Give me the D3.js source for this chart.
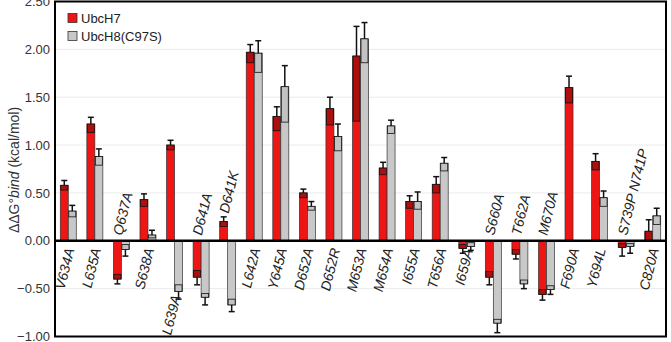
<!DOCTYPE html>
<html>
<head>
<meta charset="utf-8">
<script src="https://cdn.jsdelivr.net/npm/d3@7"></script>
<style>
  body { margin: 0; background: #fff; }
  svg { display: block; font-family: "Liberation Sans", Arial, sans-serif; }
</style>
</head>
<body>
<script>
// mutants along the x axis
var categories = ["V634A", "L635A", "Q637A", "S638A", "L639A", "D641A", "D641K", "L642A",
  "Y645A", "D652A", "D652R", "M653A", "M654A", "I655A", "T656A", "I659A", "S660A",
  "T662A", "M670A", "F690A", "Y694L", "S739P N741P", "C820A"];
// where the mutant name sits relative to the zero line
var labelSide = ["below", "below", "above", "below", "below", "above", "above", "below",
  "below", "below", "below", "below", "below", "below", "below", "below", "above",
  "above", "above", "below", "below", "above", "below"];

var seriesNames = ["UbcH7", "UbcH8(C97S)"];

// UbcH7 ddG (kcal/mol) with asymmetric errors
var h7Values = [0.58, 1.22, -0.40, 0.43, 1.00, -0.38, 0.20, 1.97, 1.30, 0.50, 1.38, 1.93,
  0.76, 0.41, 0.59, -0.08, -0.38, -0.14, -0.56, 1.60, 0.83, -0.07, 0.10];
var h7ErrUp = [0.05, 0.07, 0.05, 0.06, 0.05, 0.07, 0.05, 0.08, 0.10, 0.04, 0.12, 0.31,
  0.06, 0.06, 0.08, 0.04, 0.06, 0.05, 0.05, 0.12, 0.08, 0.04, 0.12];
var h7ErrDown = [0.05, 0.09, 0.05, 0.07, 0.05, 0.08, 0.05, 0.11, 0.15, 0.05, 0.17, 0.68,
  0.07, 0.07, 0.09, 0.05, 0.08, 0.05, 0.06, 0.16, 0.09, 0.09, 0.12];

// UbcH8(C97S) ddG (kcal/mol), no value for F690A
var h8Values = [0.31, 0.88, -0.09, 0.06, -0.53, -0.59, -0.67, 1.96, 1.61, 0.36, 1.09, 2.11,
  1.20, 0.41, 0.81, -0.06, -0.86, -0.45, -0.51, null, 0.45, -0.06, 0.26];
var h8ErrUp = [0.06, 0.08, 0.05, 0.05, 0.07, 0.04, 0.06, 0.13, 0.22, 0.05, 0.13, 0.17,
  0.06, 0.10, 0.06, 0.04, 0.04, 0.04, 0.04, null, 0.07, 0.03, 0.08];
var h8ErrDown = [0.06, 0.09, 0.07, 0.03, 0.08, 0.08, 0.07, 0.20, 0.37, 0.04, 0.15, 0.25,
  0.08, 0.08, 0.08, 0.04, 0.10, 0.05, 0.05, null, 0.09, 0.07, 0.09];

var yTicks = [-1, -0.5, 0, 0.5, 1, 1.5, 2, 2.5];

var W = 671, H = 342;
var margin = {top: 1.5, right: 5, bottom: 5.5, left: 55};
var width = W - margin.left - margin.right,
    height = H - margin.top - margin.bottom;

var svg = d3.select("body").append("svg")
    .attr("width", W)
    .attr("height", H);
var g = svg.append("g")
    .attr("transform", "translate(" + margin.left + "," + margin.top + ")");

var x = d3.scaleBand().domain(categories).range([0, width]).padding(0);
var xSub = d3.scaleBand().domain(seriesNames).range([-8, 8]);
var y = d3.scaleLinear().domain([-1, 2.5]).range([height, 0]);

var colors = {"UbcH7": "#ee1515", "UbcH8(C97S)": "#c8c8c8"};
var boxFill = {"UbcH7": "#ad0f0f", "UbcH8(C97S)": "#c2c2c2"};

// grid
g.append("g").selectAll("line").data(yTicks).enter().append("line")
    .attr("x1", 0).attr("x2", width)
    .attr("y1", function(d) { return y(d); })
    .attr("y2", function(d) { return y(d); })
    .style("stroke", "#ebebeb").style("stroke-width", 1);

// y axis (labels only)
g.append("g")
    .call(d3.axisLeft(y).tickValues(yTicks).tickFormat(d3.format(".2f")).tickSize(0).tickPadding(5))
    .call(function(a) { a.select(".domain").remove(); })
    .selectAll("text")
    .style("font-size", "13px")
    .style("fill", "#333")
    .style("font-family", "'Liberation Sans', Arial, sans-serif");

// flatten data
var bars = [];
categories.forEach(function(c, i) {
  var rows = [[seriesNames[0], h7Values, h7ErrUp, h7ErrDown], [seriesNames[1], h8Values, h8ErrUp, h8ErrDown]];
  rows.forEach(function(r) {
    if (r[1][i] == null) return;
    bars.push({cat: c, series: r[0], v: r[1][i], up: r[2][i], down: r[3][i]});
  });
});

var bg = g.append("g");
bars.forEach(function(d) {
  var bx = x(d.cat) + x.bandwidth() / 2 + xSub(d.series);
  var bw = xSub.bandwidth();
  var cx = bx + bw / 2;
  bg.append("rect")
      .attr("x", bx).attr("width", bw)
      .attr("y", y(Math.max(0, d.v)))
      .attr("height", Math.abs(y(d.v) - y(0)))
      .style("fill", colors[d.series])
      .style("stroke", "#333").style("stroke-width", 0.7);

  // inner error shown as a darker box, outer error as whisker with cap
  var inner, outer;
  if (d.v >= 0) { inner = Math.max(0, d.v - d.down); outer = d.v + d.up; }
  else { inner = Math.min(0, d.v + d.up); outer = d.v - d.down; }
  bg.append("rect")
      .attr("x", bx + 0.5).attr("width", bw - 1)
      .attr("y", Math.min(y(inner), y(d.v)))
      .attr("height", Math.abs(y(inner) - y(d.v)))
      .style("fill", boxFill[d.series])
      .style("stroke", "#111").style("stroke-width", 0.8);
  bg.append("line")
      .attr("x1", cx).attr("x2", cx)
      .attr("y1", y(d.v)).attr("y2", y(outer))
      .style("stroke", "#111").style("stroke-width", 1.5);
  bg.append("line")
      .attr("x1", cx - 3).attr("x2", cx + 3)
      .attr("y1", y(outer)).attr("y2", y(outer))
      .style("stroke", "#111").style("stroke-width", 1.5);
});

// zero line
g.append("line")
    .attr("x1", 0).attr("x2", width)
    .attr("y1", y(0)).attr("y2", y(0))
    .style("stroke", "#000").style("stroke-width", 2.5);

// category labels
var angle = -76;
categories.forEach(function(c, i) {
  var cx = x(c) + x.bandwidth() / 2;
  var vals = [h7Values[i], h8Values[i]];
  var lo = 0, hi = 0;
  vals.forEach(function(v, k) {
    if (v == null) return;
    var up = k === 0 ? h7ErrUp[i] : h8ErrUp[i];
    var dn = k === 0 ? h7ErrDown[i] : h8ErrDown[i];
    lo = Math.min(lo, v - dn);
    hi = Math.max(hi, v + up);
  });
  var t = g.append("text")
      .text(c)
      .attr("dy", "0.35em")
      .style("font-size", "14px")
      .style("font-style", "italic")
      .style("fill", "#222");
  if (labelSide[i] === "below") {
    var ty = Math.max(y(0) + 7.5, y(lo) - 4);
    t.attr("text-anchor", "end")
     .attr("transform", "translate(" + (cx + 1.5) + "," + ty + ") rotate(" + angle + ")");
  } else {
    var ty2 = Math.min(y(0) - 6, y(hi) - 4);
    t.attr("text-anchor", "start")
     .attr("transform", "translate(" + (cx - 4) + "," + ty2 + ") rotate(" + angle + ")");
  }
});

// frame
g.append("rect")
    .attr("x", 0).attr("y", 0)
    .attr("width", width).attr("height", height)
    .style("fill", "none").style("stroke", "#000").style("stroke-width", 2);

// legend
var leg = g.append("g").attr("transform", "translate(13,12)");
seriesNames.forEach(function(s, i) {
  var row = leg.append("g").attr("transform", "translate(0," + (i * 18) + ")");
  row.append("rect").attr("width", 9).attr("height", 9)
      .style("fill", colors[s]).style("stroke", "#333").style("stroke-width", 0.8);
  row.append("text").attr("x", 13).attr("y", 9)
      .text(s).style("font-size", "13px").style("fill", "#222");
});

// y axis title
var yt = svg.append("text")
    .attr("transform", "translate(19," + 170 + ") rotate(-90)")
    .attr("text-anchor", "middle")
    .style("font-size", "14px")
    .style("fill", "#333");
yt.append("tspan").text("\u0394\u0394G\u00b0");
yt.append("tspan").text("bind").style("font-style", "italic");
yt.append("tspan").text(" (kcal/mol)");
</script>
</body>
</html>
